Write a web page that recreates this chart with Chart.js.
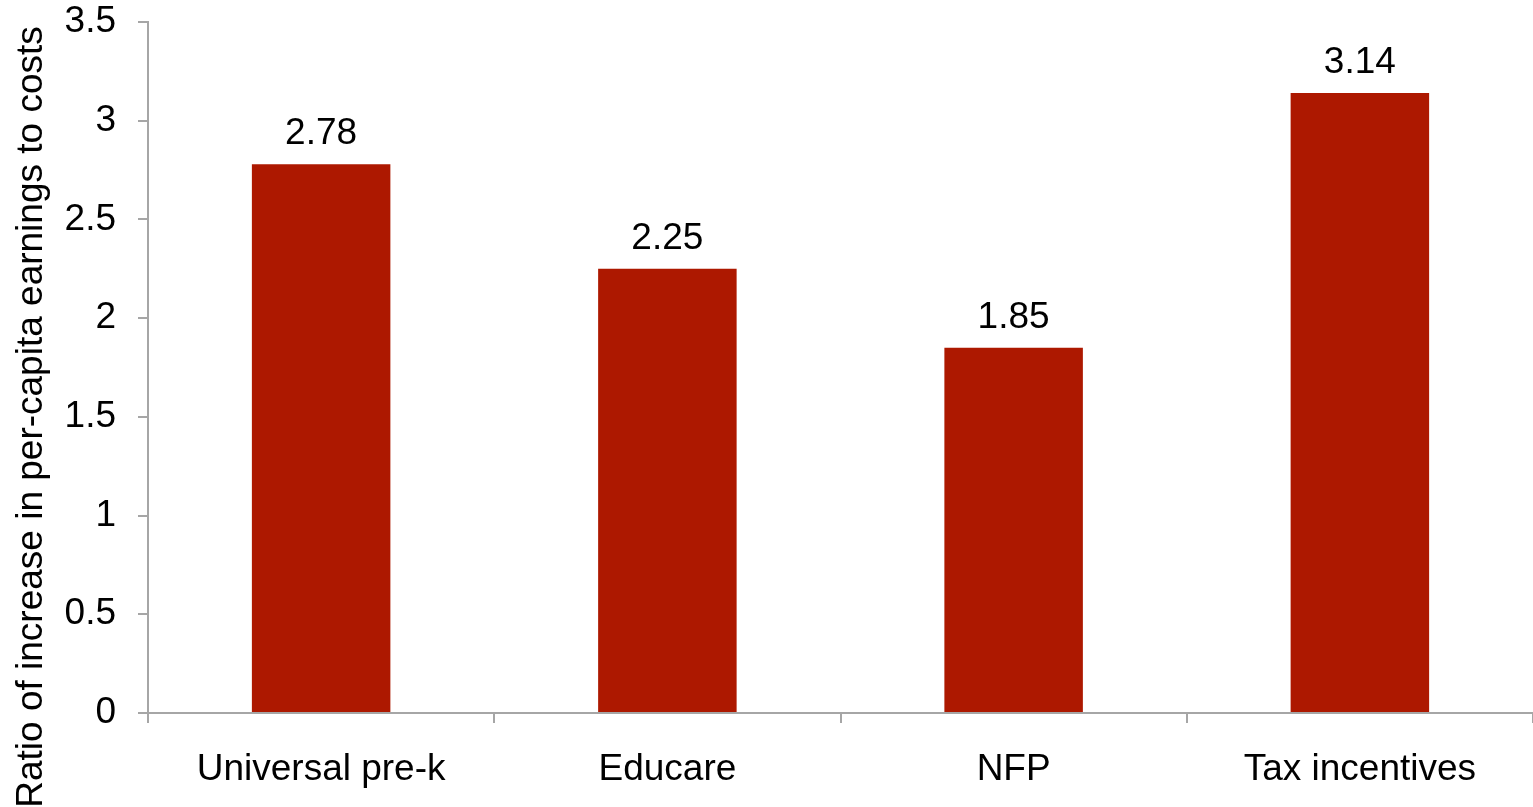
<!DOCTYPE html>
<html>
<head>
<meta charset="utf-8">
<script src="https://cdn.jsdelivr.net/npm/chart.js@4/dist/chart.umd.min.js"></script>
<style>
  html, body { margin: 0; padding: 0; background: #fff; }
  #wrap { width: 1533px; height: 807px; position: relative; }
</style>
</head>
<body>
<div id="wrap"><canvas id="chart"></canvas></div>
<script>
// chart data
var categories = ["Universal pre-k", "Educare", "NFP", "Tax incentives"];
var ratios = [2.78, 2.25, 1.85, 3.14];
var yTitle = "Ratio of increase in per-capita earnings to costs";

var axisGray = "#a6a6a6";
var fontFamily = "'Liberation Sans', Arial, sans-serif";
var fontSize = 37;

// value labels above bars + rotated axis title
var labelPlugin = {
  id: 'valueLabels',
  afterDatasetsDraw: function(chart) {
    var ctx = chart.ctx;
    var meta = chart.getDatasetMeta(0);
    ctx.save();
    ctx.fillStyle = "#000";
    ctx.font = fontSize + "px " + fontFamily;
    ctx.textAlign = "center";
    ctx.textBaseline = "alphabetic";
    meta.data.forEach(function(bar, i) {
      ctx.fillText(ratios[i].toFixed(2), bar.x, bar.y - 20);
    });
    ctx.translate(42, 417);
    ctx.rotate(-Math.PI / 2);
    ctx.fillText(yTitle, 0, 0);
    ctx.restore();
  }
};

new Chart(document.getElementById('chart'), {
  type: 'bar',
  data: {
    labels: categories,
    datasets: [{
      data: ratios,
      backgroundColor: "#ad1800",
      borderWidth: 0,
      barPercentage: 0.4,
      categoryPercentage: 1.0
    }]
  },
  options: {
    responsive: true,
    maintainAspectRatio: false,
    animation: false,
    layout: { padding: { top: 22, right: 0, left: 0, bottom: 0 } },
    plugins: {
      legend: { display: false },
      tooltip: { enabled: false }
    },
    scales: {
      x: {
        grid: {
          offset: true,
          drawOnChartArea: false,
          drawTicks: true,
          tickLength: 10,
          color: axisGray,
          lineWidth: 2
        },
        border: { color: axisGray, width: 2 },
        ticks: {
          color: "#000",
          padding: 25,
          maxRotation: 0,
          font: { size: fontSize, family: fontFamily }
        },
        afterFit: function(scale) { scale.height = 94; }
      },
      y: {
        min: 0,
        max: 3.5,
        grid: {
          drawOnChartArea: false,
          drawTicks: true,
          tickLength: 10,
          color: axisGray,
          lineWidth: 2
        },
        border: { color: axisGray, width: 2 },
        ticks: {
          stepSize: 0.5,
          color: "#000",
          padding: 22,
          font: { size: fontSize, family: fontFamily },
          callback: function(v) { return String(Number(v)); }
        },
        afterFit: function(scale) {
          scale.width = 148;
          scale.paddingTop = 0;
        }
      }
    }
  },
  plugins: [labelPlugin]
});
</script>
</body>
</html>
